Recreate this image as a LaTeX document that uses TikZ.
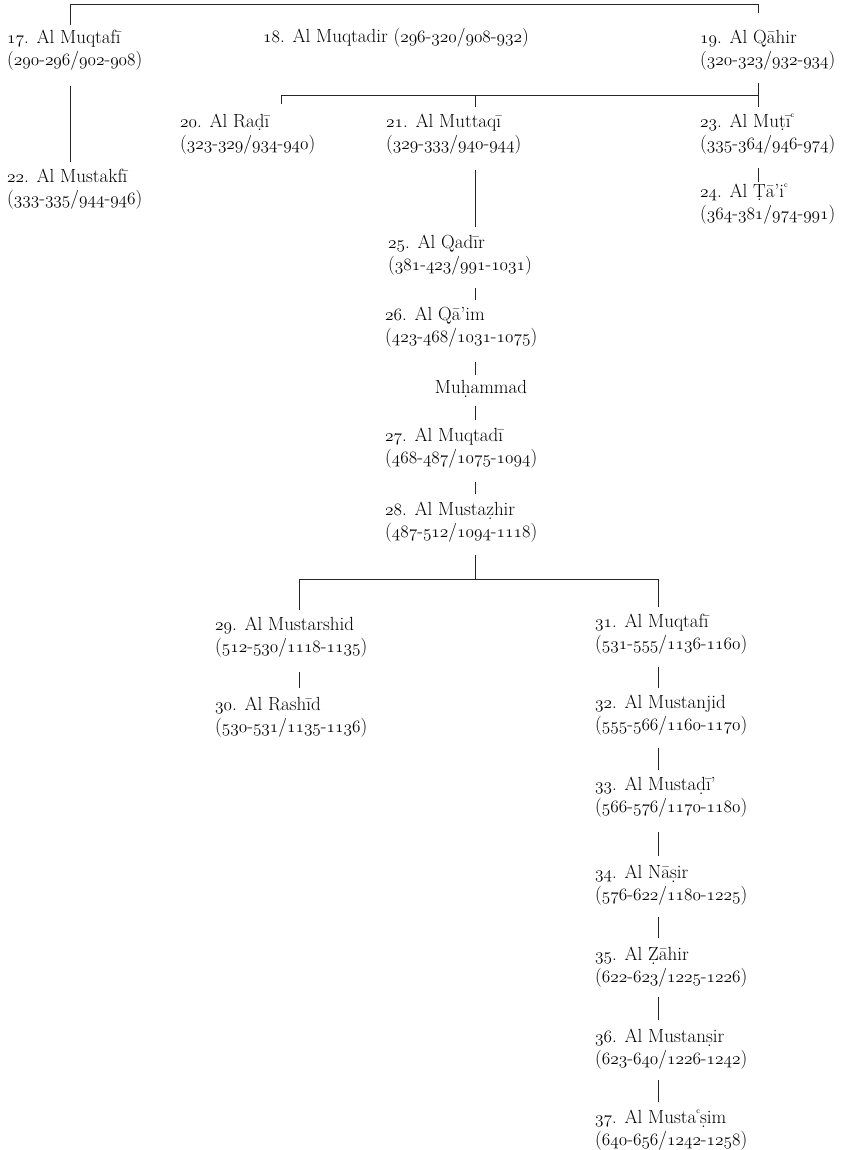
\documentclass[tikz,border=0pt]{standalone}
\usepackage{fontspec}
\setmainfont{Latin Modern Roman}
\newcommand\os[1]{{\usefont{OML}{lmm}{m}{it}#1}}
\makeatletter
\def\osf#1{\osf@loop#1\osf@end}
\def\osf@end{\osf@end}
\def\osf@loop#1{\ifx#1\osf@end\else\osf@char{#1}\expandafter\osf@loop\fi}
\def\osf@char#1{\ifnum`#1>47 \ifnum`#1<58 \os{#1}\else#1\fi\else#1\fi}
\makeatother
\newsavebox\dbbox
\newcommand\db[1]{\sbox\dbbox{#1}\makebox[0pt][l]{\makebox[\wd\dbbox]{\raisebox{-0.2em}{.}}}\usebox\dbbox}
\newcommand\ayn{\raisebox{0.5em}{\fontsize{8}{8}\selectfont c}}
\newcommand\tp{\rule{0pt}{15pt}}
\newcommand\kal[3]{\tp\os{#1}. Al #2\\\osf{#3}}
\begin{document}
\begin{tikzpicture}[x=1pt,y=1pt,
  lbl/.style={anchor=north west, inner sep=0pt, align=left, font=\fontsize{19}{22}\selectfont},
  ln/.style={line width=1pt, draw=black!85}]
\useasboundingbox (0,0) rectangle (859,-1150);
% nodes
\node[lbl] (n17) at (7,-28) {\kal{17}{Muqtafī}{(290-296/902-908)}};
\node[lbl] (n18) at (263,-27) {\tp\os{18}. Al Muqtadir \osf{(296-320/908-932)}};
\node[lbl] (n19) at (700,-28) {\kal{19}{Qāhir}{(320-323/932-934)}};
\node[lbl] (n20) at (180,-112) {\kal{20}{Ra\db{d}ī}{(323-329/934-940)}};
\node[lbl] (n21) at (386,-112) {\kal{21}{Muttaqī}{(329-333/940-944)}};
\node[lbl] (n23) at (700,-112) {\kal{23}{Mu\db{t}ī\ayn}{(335-364/946-974)}};
\node[lbl] (n22) at (7,-167) {\kal{22}{Mustakfī}{(333-335/944-946)}};
\node[lbl] (n24) at (700,-182) {\kal{24}{\db{T}ā’i\ayn}{(364-381/974-991)}};
\node[lbl] (n25) at (388,-233) {\kal{25}{Qadīr}{(381-423/991-1031)}};
\node[lbl] (n26) at (385,-305) {\kal{26}{Qā’im}{(423-468/1031-1075)}};
\node[lbl,anchor=north] (nm) at (481,-378) {\tp Mu\db{h}ammad};
\node[lbl] (n27) at (385,-426) {\kal{27}{Muqtadī}{(468-487/1075-1094)}};
\node[lbl] (n28) at (385,-500) {\kal{28}{Musta\db{z}hir}{(487-512/1094-1118)}};
\node[lbl] (n29) at (215,-615) {\kal{29}{Mustarshid}{(512-530/1118-1135)}};
\node[lbl] (n30) at (215,-695) {\kal{30}{Rashīd}{(530-531/1135-1136)}};
\node[lbl] (n31) at (595,-612) {\kal{31}{Muqtafī}{(531-555/1136-1160)}};
\node[lbl] (n32) at (595,-693) {\kal{32}{Mustanjid}{(555-566/1160-1170)}};
\node[lbl] (n33) at (595,-775) {\kal{33}{Musta\db{d}ī’}{(566-576/1170-1180)}};
\node[lbl] (n34) at (595,-863) {\kal{34}{Nā\db{s}ir}{(576-622/1180-1225)}};
\node[lbl] (n35) at (595,-945) {\kal{35}{\db{Z}āhir}{(622-623/1225-1226)}};
\node[lbl] (n36) at (595,-1027) {\kal{36}{Mustan\db{s}ir}{(623-640/1226-1242)}};
\node[lbl] (n37) at (595,-1108) {\kal{37}{Musta\ayn\db{s}im}{(640-656/1242-1258)}};
% coordinates
\coordinate (t17) at (70.7,-25);
\coordinate (tl) at (70.7,-5);
\coordinate (tr) at (758,-5);
\coordinate (t19) at (758,-13);
\coordinate (b17) at (70.7,-86);
\coordinate (t22) at (70.7,-162);
\coordinate (t20) at (281.7,-104);
\coordinate (ml) at (281.7,-95.5);
\coordinate (mm) at (475.5,-95.5);
\coordinate (mr) at (758,-95.5);
\coordinate (t21) at (475.5,-107);
\coordinate (b19) at (758,-83);
\coordinate (t23) at (758,-107);
\coordinate (b21) at (475.5,-170);
\coordinate (t25) at (475.5,-227);
\coordinate (b23) at (758,-168);
\coordinate (t24) at (758,-182);
\coordinate (b25) at (475.5,-288);
\coordinate (t26) at (475.5,-300);
\coordinate (b26) at (475.5,-362);
\coordinate (tm) at (475.5,-375);
\coordinate (bm) at (475.5,-406);
\coordinate (t27) at (475.5,-420);
\coordinate (b27) at (475.5,-482);
\coordinate (t28) at (475.5,-494);
\coordinate (b28) at (475.5,-555);
\coordinate (lm) at (475.5,-579);
\coordinate (ll) at (299,-579);
\coordinate (lr) at (658,-579);
\coordinate (t29) at (299,-610);
\coordinate (t31) at (658,-607);
\coordinate (b29) at (299,-672);
\coordinate (t30) at (299,-688);
\coordinate (b31) at (658,-667);
\coordinate (t32) at (658,-688);
\coordinate (b32) at (658,-748);
\coordinate (t33) at (658,-770);
\coordinate (b33) at (658,-832);
\coordinate (t34) at (658,-856);
\coordinate (b34) at (658,-917);
\coordinate (t35) at (658,-938);
\coordinate (b35) at (658,-997);
\coordinate (t36) at (658,-1020);
\coordinate (b36) at (658,-1080);
\coordinate (t37) at (658,-1102);
% connectors
\draw[ln] (t17) -- (tl) -- (tr) -- (t19);
\draw[ln] (b17) -- (t22);
\draw[ln] (t20) -- (ml) -- (mr);
\draw[ln] (mm) -- (t21);
\draw[ln] (b19) -- (t23);
\draw[ln] (b21) -- (t25);
\draw[ln] (b23) -- (t24);
\draw[ln] (b25) -- (t26);
\draw[ln] (b26) -- (tm);
\draw[ln] (bm) -- (t27);
\draw[ln] (b27) -- (t28);
\draw[ln] (b28) -- (lm);
\draw[ln] (t29) -- (ll) -- (lr) -- (t31);
\draw[ln] (b29) -- (t30);
\draw[ln] (b31) -- (t32);
\draw[ln] (b32) -- (t33);
\draw[ln] (b33) -- (t34);
\draw[ln] (b34) -- (t35);
\draw[ln] (b35) -- (t36);
\draw[ln] (b36) -- (t37);
\end{tikzpicture}
\end{document}
